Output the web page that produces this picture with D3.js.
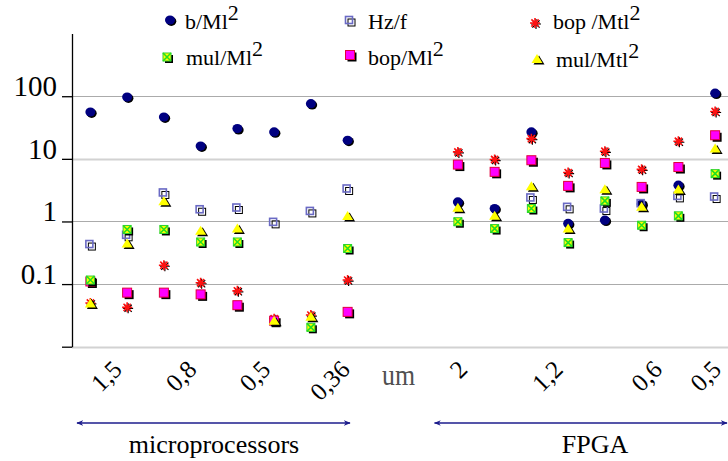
<!DOCTYPE html>
<html><head><meta charset="utf-8">
<script src="https://cdn.jsdelivr.net/npm/d3@7"></script>
</head><body style="margin:0;padding:0;background:#fff">
<svg id="chart" width="728" height="461" style="display:block"></svg>
<script>
// ---------- data ----------
const columns = ["P1","P2","P3","P4","P5","P6","P7","P8","gapA","gapB","F1","F2","F3","F4","F5","F6","F7","F8"];
const bMl2    = [56, 97, 46.6, 16, 30.4, 26.9, 76, 19.8, null, null, 2.05, 1.61, 26.9, 0.93, 1.05, 1.9, 3.8, 112];
const hzF     = [0.42, 0.59, 2.8, 1.51, 1.61, 0.95, 1.42, 3.24, null, null, null, null, 2.33, 1.65, 1.55, 1.89, 2.47, 2.41];
const bopMtl2 = [0.05, 0.0425, 0.2, 0.105, 0.078, 0.028, 0.032, 0.116, null, null, 12.9, 9.75, 21, 6.04, 13.2, 6.8, 19.1, 57];
const bopMl2  = [0.11, 0.073, 0.073, 0.0685, 0.046, 0.026, null, 0.036, null, null, 8.1, 6.2, 9.5, 3.7, 8.6, 3.56, 7.4, 23.8];
const mulMl2  = [0.116, 0.745, 0.745, 0.47, 0.47, null, 0.0204, 0.37, null, null, 0.99, 0.77, 1.61, 0.46, 2.13, 0.87, 1.23, 5.8];
const mulMtl2 = [0.049, 0.445, 2.1, 0.71, 0.77, 0.026, 0.030, 1.22, null, null, 1.65, 1.23, 3.66, 0.77, 3.27, 1.71, 3.24, 14.6];

const yTicks = [0.01, 0.1, 1, 10, 100];
const yTickLabels = ["", "0.1", "1", "10", "100"];
const xTickLabels = ["1,5", "0,8", "0,5", "0,36", "2", "1,2", "0,6", "0,5"];
const xTickAt     = [0.9, 2.93, 4.94, 7.1, 10.3, 12.9, 15.6, 17.2];   // position along the column index
const groupNames  = ["microprocessors", "FPGA"];
const unitLabel   = "um";

const series = [
  {name: "b/Ml",   sup: "2", type: "circle",   values: bMl2},
  {name: "Hz/f",   sup: "",  type: "square",   values: hzF},
  {name: "bop /Mtl", sup: "2", type: "asterisk", values: bopMtl2},
  {name: "bop/Ml", sup: "2", type: "magenta",  values: bopMl2},
  {name: "mul/Ml", sup: "2", type: "mul",      values: mulMl2},
  {name: "mul/Mtl", sup: "2", type: "triangle", values: mulMtl2}
];

// ---------- layout ----------
const FONT = "'Liberation Serif'";
const svg = d3.select("#chart");
const left = 72, plotRight = 733.5;
const x = d3.scaleBand().domain(columns).range([left, plotRight]).paddingInner(0).paddingOuter(0);
const xc = c => x(c) + x.bandwidth() / 2;
const xi = d3.scaleLinear().domain([-0.5, columns.length - 0.5]).range([left, plotRight]);
const y = d3.scaleLog().domain([0.01, 1000]).range([346.7, 33.6]);

// gridlines
const gridStyle = {0.01: ["#d2d2d2", 2], 0.1: ["#ababab", 1], 1: ["#ababab", 1], 10: ["#d2d2d2", 2], 100: ["#ababab", 1]};
svg.append("g").selectAll("line").data(yTicks).join("line")
  .attr("x1", left).attr("x2", 728)
  .attr("y1", d => Math.round(y(d)) + 0.5).attr("y2", d => Math.round(y(d)) + 0.5)
  .attr("stroke", d => gridStyle[d][0]).attr("stroke-width", d => gridStyle[d][1]);

// y axis
const yAxis = d3.axisLeft(y).tickValues(yTicks)
  .tickFormat((d, i) => yTickLabels[i]).tickSize(10).tickSizeOuter(0).tickPadding(5);
const ya = svg.append("g").attr("transform", `translate(${left},0)`).call(yAxis);
ya.select(".domain").attr("stroke", "#000").attr("stroke-width", 1.3);
ya.selectAll(".tick line").attr("stroke", "#000").attr("stroke-width", 1.3);
ya.selectAll(".tick text").style("font-family", FONT).style("font-size", "29px")
  .attr("fill", "#000").attr("dy", "-0.02em");

// ---------- markers ----------
function drawMarker(g, type) {
  if (type === "circle") {
    g.append("ellipse").attr("cx", 1.3).attr("cy", 1.3).attr("rx", 5).attr("ry", 4.6).attr("fill", "#000");
    g.append("ellipse").attr("rx", 5).attr("ry", 4.6).attr("fill", "#000080");
  } else if (type === "square") {
    g.append("rect").attr("x", -2).attr("y", -2).attr("width", 7).attr("height", 7)
      .attr("fill", "none").attr("stroke", "#000").attr("stroke-width", 1);
    g.append("rect").attr("x", -4.5).attr("y", -4.5).attr("width", 7).attr("height", 7)
      .attr("fill", "none").attr("stroke", "#6a6ac4").attr("stroke-width", 1.6);
  } else if (type === "asterisk") {
    const r = 5, d = r * 0.72;
    const p = `M${-r},0L${r},0M0,${-r}L0,${r}M${-d},${-d}L${d},${d}M${-d},${d}L${d},${-d}`;
    g.append("path").attr("d", p).attr("transform", "translate(1,1)").attr("stroke", "#000").attr("stroke-width", 1.2);
    g.append("path").attr("d", p).attr("stroke", "#ff1010").attr("stroke-width", 1.6);
  } else if (type === "magenta") {
    g.append("rect").attr("x", -2.5).attr("y", -2.5).attr("width", 9).attr("height", 9).attr("fill", "#000");
    g.append("rect").attr("x", -4.5).attr("y", -4.5).attr("width", 9).attr("height", 9)
      .attr("fill", "#ff00ff").attr("stroke", "#e0003c").attr("stroke-width", 1);
  } else if (type === "mul") {
    g.append("rect").attr("x", -2).attr("y", -2).attr("width", 8).attr("height", 8).attr("fill", "#000");
    g.append("rect").attr("x", -4).attr("y", -4).attr("width", 8).attr("height", 8)
      .attr("fill", "#ffff00").attr("stroke", "#30d030").attr("stroke-width", 1);
    g.append("path").attr("d", "M-4,-4L4,4M-4,4L4,-4").attr("stroke", "#22e022").attr("stroke-width", 1.6);
  } else if (type === "triangle") {
    const t = "M0,-5L5.5,4L-5.5,4Z";
    g.append("path").attr("d", t).attr("transform", "translate(2,1.5)").attr("fill", "#000");
    g.append("path").attr("d", t).attr("fill", "#ffff00");
  }
}

const pts = svg.append("g");
series.forEach(s => {
  const data = columns.map((c, i) => ({c, v: s.values[i]})).filter(d => d.v != null);
  pts.append("g").selectAll("g").data(data).join("g")
    .attr("transform", d => `translate(${xc(d.c)},${y(d.v)})`)
    .each(function () { drawMarker(d3.select(this), s.type); });
});

// ---------- legend ----------
const legendPos = [
  {mx: 170, my: 20, tx: 185, ty: 29},
  {mx: 350, my: 21, tx: 368, ty: 29},
  {mx: 535, my: 23, tx: 553, ty: 29},
  {mx: 167, my: 57, tx: 186, ty: 65},
  {mx: 350, my: 55, tx: 368, ty: 65},
  {mx: 537, my: 59, tx: 556, ty: 67}
];
const legendOrder = [0, 1, 2, 4, 3, 5];
const lg = svg.append("g");
legendOrder.forEach((si, k) => {
  const s = series[si], p = legendPos[k];
  const g = lg.append("g").attr("transform", `translate(${p.mx},${p.my})`);
  drawMarker(g, s.type);
  const t = lg.append("text").attr("x", p.tx).attr("y", p.ty)
    .style("font-family", FONT).style("font-size", "22px").attr("fill", "#000");
  t.append("tspan").text(s.name);
  if (s.sup) t.append("tspan").attr("dy", -9).text(s.sup);
});

// ---------- x labels ----------
svg.append("g").selectAll("text").data(xTickLabels).join("text")
  .attr("text-anchor", "end").style("font-family", FONT).style("font-size", "25px").attr("fill", "#000")
  .attr("transform", (d, i) => `translate(${xi(xTickAt[i])},371) rotate(-45)`)
  .text(d => d);

svg.append("text").attr("x", 382).attr("y", 385)
  .style("font-family", FONT).style("font-size", "30px")
  .attr("textLength", 33).attr("lengthAdjust", "spacingAndGlyphs")
  .attr("fill", "#505050").text(unitLabel);

// ---------- group arrows ----------
const defs = svg.append("defs");
defs.append("marker").attr("id", "ah").attr("viewBox", "0 0 10 10").attr("refX", 9).attr("refY", 5)
  .attr("markerWidth", 7).attr("markerHeight", 7).attr("orient", "auto-start-reverse")
  .attr("markerUnits", "userSpaceOnUse")
  .append("path").attr("d", "M0,1L10,5L0,9L3,5Z").attr("fill", "#1c1c8c");

const groups = [
  {name: groupNames[0], from: "P1", to: "P8"},
  {name: groupNames[1], from: "F1", to: "F8"}
];
const arrowY = 423;
groups.forEach((gr, k) => {
  const x1 = k === 0 ? x(gr.from) + 5 : x(gr.from) - 5;
  const x2 = k === 0 ? x(gr.to) + x.bandwidth() - 16 : 727;
  svg.append("line").attr("x1", x1).attr("x2", x2).attr("y1", arrowY).attr("y2", arrowY)
    .attr("stroke", "#1c1c8c").attr("stroke-width", 1.5)
    .attr("marker-start", "url(#ah)").attr("marker-end", "url(#ah)");
  svg.append("text").attr("x", k === 0 ? 214 : 595).attr("y", 453).attr("text-anchor", "middle")
    .style("font-family", FONT).style("font-size", "26px").attr("fill", "#000").text(gr.name);
});
</script>
</body></html>
